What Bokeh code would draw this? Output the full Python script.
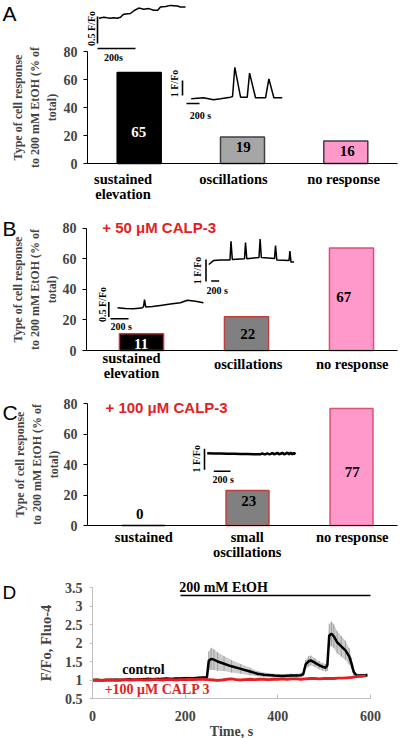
import math
from bokeh.plotting import figure
from bokeh.models import Range1d, LinearAxis, FixedTicker, NumeralTickFormatter
from bokeh.layouts import column
from bokeh.core.properties import value
from bokeh.embed import file_html
from bokeh.resources import INLINE

# ---------------- data ----------------
cat_A = ["sustained\nelevation", "oscillations", "no response"]
val_A = [65, 19, 16]
cat_B = ["sustained\nelevation", "oscillations", "no response"]
val_B = [11, 22, 67]
cat_C = ["sustained", "small\noscillations", "no response"]
val_C = [0, 23, 77]
pct_ticks = [0, 20, 40, 60, 80]

# inset traces: time (s), F/Fo
trA1_t = [2, 28, 45, 63, 80, 98, 116, 130, 142, 168, 186, 212, 238, 265, 291, 312, 326, 353, 379, 414, 432, 458]
trA1_f = [0.99, 1.01, 1.00, 0.99, 1.00, 0.99, 1.01, 1.06, 1.07, 1.08, 1.13, 1.18, 1.16, 1.17, 1.14, 1.14, 1.20, 1.21, 1.23, 1.22, 1.20, 1.20]
trA2_t = [0, 189, 343, 451, 605, 636, 671, 759, 862, 898, 990, 1144, 1195, 1272, 1401]
trA2_f = [1.00, 1.07, 0.93, 1.00, 1.11, 1.15, 3.10, 1.11, 1.11, 2.71, 1.07, 1.07, 2.33, 1.07, 1.07]
trB1_t = [0, 89, 178, 266, 289, 300, 314, 389, 477, 588, 699, 777, 866, 955]
trB1_f = [1.00, 0.98, 0.97, 0.99, 1.03, 1.27, 1.03, 1.04, 1.08, 1.13, 1.17, 1.25, 1.22, 1.17]
trB2_t = [0, 118, 293, 530, 555, 588, 893, 918, 950, 1255, 1283, 1313, 1643, 1668, 1700, 2005, 2028, 2055, 2130]
trB2_f = [0.94, 1.12, 1.15, 1.15, 2.00, 1.17, 1.20, 1.94, 1.20, 1.26, 2.10, 1.26, 1.21, 1.80, 1.15, 1.12, 1.55, 1.05, 1.05]
trC_t = [0, 80, 160, 240, 320, 400, 480, 560, 640, 660, 680, 700, 720, 740, 760, 780, 800, 820, 840, 860, 880, 900, 920, 940, 960, 980, 1000, 1020, 1040, 1057]
trC_f = [1.00, 0.99, 0.98, 0.97, 0.97, 0.96, 0.96, 0.95, 0.95, 0.99, 0.95, 0.95, 1.00, 0.95, 0.96, 1.01, 0.95, 0.97, 1.02, 0.95, 0.97, 1.02, 0.95, 0.97, 1.03, 0.95, 1.02, 0.95, 1.01, 0.95]

# panel D
time_ctrl = [0, 10, 20, 30, 40, 50, 60, 70, 80, 90, 100, 110, 120, 130, 140, 150, 160, 170, 180, 190, 200, 210, 220, 230, 240,
             247, 251, 256, 262, 270, 284, 300, 320, 340, 356, 370, 392, 410, 428, 440, 450, 455, 460, 466, 471, 480, 489, 496,
             503, 507, 511, 516, 521, 528, 537, 546, 554, 559, 564, 570, 580, 593]
mean_ctrl = [1.00, 1.00, 0.99, 1.00, 1.00, 1.01, 1.00, 1.01, 1.02, 1.01, 1.02, 1.02, 1.03, 1.02, 1.03, 1.03, 1.04, 1.03, 1.04, 1.04,
             1.05, 1.05, 1.05, 1.06, 1.07,
             1.07, 1.52, 1.57, 1.55, 1.50, 1.44, 1.37, 1.30, 1.23, 1.17, 1.14, 1.12, 1.11, 1.12, 1.12, 1.13, 1.16, 1.42, 1.50,
             1.53, 1.47, 1.40, 1.36, 1.33, 1.40, 2.20, 2.25, 2.18, 2.02, 1.91, 1.80, 1.64, 1.45, 1.21, 1.12, 1.12, 1.13]
sem_ctrl = [0.04, 0.04, 0.04, 0.04, 0.04, 0.04, 0.04, 0.04, 0.04, 0.04, 0.04, 0.04, 0.04, 0.04, 0.04, 0.04, 0.04, 0.04, 0.04, 0.04,
            0.04, 0.04, 0.04, 0.04, 0.04,
            0.05, 0.25, 0.30, 0.28, 0.25, 0.20, 0.17, 0.13, 0.10, 0.07, 0.06, 0.05, 0.05, 0.05, 0.05, 0.05, 0.06, 0.12, 0.14,
            0.13, 0.12, 0.11, 0.10, 0.10, 0.15, 0.32, 0.33, 0.32, 0.30, 0.28, 0.26, 0.22, 0.15, 0.08, 0.05, 0.05, 0.05]
time_calp = [0, 10, 20, 30, 40, 50, 60, 70, 80, 90, 100, 110, 120, 130, 140, 150, 160, 170, 180, 190, 200, 210, 220, 230, 240,
             250, 260, 270, 280, 290, 300, 310, 320, 330, 340, 350, 360, 370, 380, 390, 400, 410, 420, 430, 440, 450, 460, 470,
             480, 490, 500, 510, 520, 530, 540, 550, 560, 570, 580, 590]
mean_calp = [0.99, 1.00, 0.99, 1.00, 1.00, 0.99, 1.00, 1.01, 1.00, 1.00, 1.01, 1.00, 1.00, 1.01, 1.01, 1.00, 1.01, 1.01, 1.00, 1.01,
             1.01, 1.02, 1.01, 1.02, 1.02, 1.01, 1.00, 0.99, 1.00, 1.02, 1.03, 1.01, 1.00, 1.01, 1.02, 1.01, 1.02, 1.02, 1.01, 1.02,
             1.02, 1.03, 1.02, 1.03, 1.03, 1.02, 1.03, 1.04, 1.04, 1.03, 1.04, 1.04, 1.04, 1.05, 1.05, 1.06, 1.07, 1.09, 1.10, 1.11]
d_xticks = [0, 200, 400, 600]
d_yticks = [0.5, 1, 1.5, 2, 2.5, 3, 3.5]
etoh_period = [190, 600]

# ---------------- layout helpers ----------------
S = 1.0
W = 404
HEIGHTS = [201, 196, 180, 161]
X_LEFT_REF = 0.0
SERIF = "Liberation Serif"
SANS = "Liberation Sans"
RED = "#e31e24"
F_CAT = 14.5
F_TICK = 14
F_VAL = 15
F_INS = 10

ref_tops = [0.0]
for h in HEIGHTS[:-1]:
    ref_tops.append(ref_tops[-1] + h / S)


def make_panel(height, ref_top, cx0, dx, y0, dy):
    ref_bot = ref_top + height / S
    xs = (X_LEFT_REF - cx0) / dx
    xe = (X_LEFT_REF + W / S - cx0) / dx
    ys = (y0 - ref_bot) / dy
    ye = (y0 - ref_top) / dy
    p = figure(width=W, height=height, x_range=Range1d(xs, xe), y_range=Range1d(ys, ye),
               x_axis_type=None, y_axis_type=None, output_backend="svg", toolbar_location=None,
               min_border=0, outline_line_color=None)
    p.background_fill_color = "white"
    p.border_fill_color = "white"
    X = lambda xr: (xr - cx0) / dx
    Y = lambda yr: (y0 - yr) / dy
    return p, X, Y


def txt(p, X, Y, xs, ys, texts, size, color="black", font=SERIF, bold=True, align="center", angle=0.0):
    p.text(x=[X(v) for v in xs], y=[Y(v) for v in ys], text=texts,
           text_font=value(font), text_font_style="bold" if bold else "normal",
           text_font_size=f"{size}px", text_color=color, text_align=align,
           text_baseline="middle", angle=angle)


def inset(p, X, Y, t, f, cfg):
    ox, oy, kx, ky = cfg["origin"][0], cfg["origin"][1], cfg["kx"], cfg["ky"]
    xr = [ox + ti * kx for ti in t]
    yr = [oy - (fi - 1.0) * ky for fi in f]
    p.line([X(v) for v in xr], [Y(v) for v in yr], line_color="black", line_width=cfg["lw"])
    vx, vyb = cfg["vbar"]
    vlen = cfg["vF"] * ky
    p.segment(x0=[X(vx)], y0=[Y(vyb)], x1=[X(vx)], y1=[Y(vyb - vlen)], line_color="black", line_width=1.6)
    hx, hy = cfg["hbar"]
    hlen = 200 * kx
    p.segment(x0=[X(hx)], y0=[Y(hy)], x1=[X(hx + hlen)], y1=[Y(hy)], line_color="black", line_width=1.6)
    txt(p, X, Y, [cfg["vlab"][0]], [cfg["vlab"][1]], [cfg["vtext"]], F_INS, angle=math.pi / 2)
    txt(p, X, Y, [cfg["hlab"][0]], [cfg["hlab"][1]], [cfg["htext"]], F_INS)


def bar_panel(idx, cfg, cats, vals, insets):
    p, X, Y = make_panel(HEIGHTS[idx], ref_tops[idx], cfg["cx0"], cfg["dx"], cfg["y0"], cfg["dy"])
    xs = list(range(len(vals)))
    p.vbar(x=xs, top=vals, width=cfg["bw"], bottom=0, fill_color=cfg["fills"],
           line_color=cfg["edges"], line_width=1.5)
    yax = LinearAxis(fixed_location=X(cfg["axis_x"]), bounds=(0, 80), ticker=FixedTicker(ticks=pct_ticks),
                     axis_line_color="black", axis_line_width=1,
                     major_tick_out=4, major_tick_in=0, minor_tick_out=0, minor_tick_in=0,
                     major_tick_line_color="black",
                     major_label_text_font=SERIF, major_label_text_font_style="bold",
                     major_label_text_font_size=f"{F_TICK}px", major_label_standoff=6,
                     axis_label="Type of cell response\nto 200 mM EtOH (% of\ntotal)",
                     axis_label_text_font=SERIF, axis_label_text_font_style="bold",
                     axis_label_text_font_size="12px", axis_label_standoff=cfg["yl_standoff"],
                     axis_label_text_align="center")
    p.add_layout(yax, "left")
    xax = LinearAxis(fixed_location=0, bounds=(X(cfg["axis_x"]), X(cfg["axis_end"])),
                     ticker=FixedTicker(ticks=[]), axis_line_color="black", axis_line_width=1,
                     major_tick_out=0, major_tick_in=0, minor_tick_out=0, minor_tick_in=0,
                     major_label_text_font_size="0px")
    p.add_layout(xax, "below")
    # panel letter
    txt(p, X, Y, [X_LEFT_REF + 2], [cfg["letter_y"]], [cfg["letter"]], 21, font=SANS, bold=False, align="left")
    if cfg.get("heading"):
        txt(p, X, Y, [cfg["heading_pos"][0]], [cfg["heading_pos"][1]], [cfg["heading"]], 15,
            color=RED, font=SANS, align="left")
    # value labels
    for i, v in enumerate(vals):
        txt(p, X, Y, [cfg["vl_x"][i]], [cfg["vl_y"][i]], [str(v)], F_VAL, color=cfg["vl_color"][i])
    # category labels
    for i, c in enumerate(cats):
        for j, line in enumerate(c.split("\n")):
            txt(p, X, Y, [cfg["cl_x"][i]], [cfg["cl_y"][i] + 15 * j], [line], F_CAT)
    for (t, f, icfg) in insets:
        inset(p, X, Y, t, f, icfg)
    return p


cfgA = dict(cx0=138.7, dx=103.3, y0=163, dy=1.4, axis_x=87, axis_end=397, bw=0.426, yl_standoff=2,
            fills=["#000000", "#a6a6a6", "#ff99cc"], edges=["#000000", "#404040", "#404040"],
            letter="A", letter_y=12.5,
            vl_x=[138.3, 242.7, 346.7], vl_y=[131.7, 146.7, 150], vl_color=["white", "black", "black"],
            cl_x=[122.5, 233, 343], cl_y=[178.3, 178.3, 178.3])
cfgB = dict(cx0=141, dx=105, y0=350, dy=1.529, axis_x=86, axis_end=397, bw=0.42, yl_standoff=1,
            fills=["#000000", "#808080", "#ff99cc"], edges=["#d03030", "#c04040", "#e05070"],
            letter="B", letter_y=228.3, heading="+ 50 \u03bcM CALP-3", heading_pos=(101.7, 226.7),
            vl_x=[140.7, 247.3, 343.3], vl_y=[343.3, 333.3, 296], vl_color=["white", "black", "black"],
            cl_x=[131, 247.7, 351.7], cl_y=[357.7, 363.3, 363.3])
cfgC = dict(cx0=143, dx=104, y0=525, dy=1.521, axis_x=87, axis_end=397, bw=0.413, yl_standoff=0,
            fills=["#000000", "#808080", "#ff99cc"], edges=["#000000", "#c04040", "#e05070"],
            letter="C", letter_y=411.7, heading="+ 100 \u03bcM CALP-3", heading_pos=(105, 407.3),
            vl_x=[139.3, 248.3, 351.7], vl_y=[513.3, 500, 471.7], vl_color=["black", "black", "black"],
            cl_x=[143.3, 246.7, 351.7], cl_y=[536.7, 536.7, 536.7])

insA1 = dict(origin=(98, 17.3), kx=0.19, ky=54, lw=1.5, vbar=(97, 43), vF=0.5, hbar=(97, 48),
             vlab=(90.5, 28), vtext="0.5 F/Fo", hlab=(113, 57), htext="200s")
insA2 = dict(origin=(190.7, 98.3), kx=0.065, ky=15, lw=1.5, vbar=(182, 95), vF=1.0, hbar=(186, 103),
             vlab=(174, 83), vtext="1 F/Fo", hlab=(200, 115), htext="200 s")
insB1 = dict(origin=(117, 307.3), kx=0.09, ky=30, lw=1.5, vbar=(108.3, 316.5), vF=0.5, hbar=(110, 318.3),
             vlab=(102, 304), vtext="0.5 F/Fo", hlab=(120.8, 325.5), htext="200 s")
insB2 = dict(origin=(208.3, 262.7), kx=0.04, ky=22, lw=1.5, vbar=(205.5, 281), vF=1.0, hbar=(210.7, 280.5),
             vlab=(197.3, 270), vtext="1 F/Fo", hlab=(216.7, 290), htext="200 s")
insC = dict(origin=(206.7, 452.7), kx=0.0835, ky=21, lw=2.5, vbar=(204, 469.3), vF=1.0, hbar=(213.3, 470.7),
            vlab=(196, 458.3), vtext="1 F/Fo", hlab=(222.7, 479.3), htext="200 s")

pA = bar_panel(0, cfgA, cat_A, val_A, [(trA1_t, trA1_f, insA1), (trA2_t, trA2_f, insA2)])
pB = bar_panel(1, cfgB, cat_B, val_B, [(trB1_t, trB1_f, insB1), (trB2_t, trB2_f, insB2)])
pC = bar_panel(2, cfgC, cat_C, val_C, [(trC_t, trC_f, insC)])

# ---------------- panel D ----------------
pD, XD, YD = make_panel(HEIGHTS[3], ref_tops[3], 92, 0.4633, 698 + 0.5 * 37, 37)
AX_GRAY = "#bfbfbf"
lo = [m - s for m, s in zip(mean_ctrl, sem_ctrl)]
hi = [m + s for m, s in zip(mean_ctrl, sem_ctrl)]
pD.varea(x=time_ctrl, y1=lo, y2=hi, fill_color="#cccccc", fill_alpha=1.0)
pD.segment(x0=time_ctrl, y0=lo, x1=time_ctrl, y1=hi, line_color="#a0a0a0", line_width=1)
pD.line(time_ctrl, mean_ctrl, line_color="black", line_width=2.5)
pD.varea(x=time_calp, y1=[m - 0.025 for m in mean_calp], y2=[m + 0.025 for m in mean_calp],
         fill_color=RED, fill_alpha=0.5)
pD.line(time_calp, mean_calp, line_color=RED, line_width=2.8)

ydax = LinearAxis(fixed_location=0, bounds=(0.5, 3.5), ticker=FixedTicker(ticks=d_yticks),
                  formatter=NumeralTickFormatter(format="0.[0]"),
                  axis_line_color=AX_GRAY, major_tick_line_color=AX_GRAY,
                  major_tick_out=3, major_tick_in=0, minor_tick_out=0, minor_tick_in=0,
                  major_label_text_font=SERIF, major_label_text_font_style="bold",
                  major_label_text_font_size=f"{F_TICK}px", major_label_standoff=7,
                  axis_label="F/Fo, Fluo-4", axis_label_text_font=SERIF, axis_label_text_font_style="bold",
                  axis_label_text_font_size="14.5px", axis_label_standoff=8)
pD.add_layout(ydax, "left")
xdax = LinearAxis(fixed_location=0.5, bounds=(0, 600), ticker=FixedTicker(ticks=d_xticks),
                  axis_line_color=AX_GRAY, major_tick_line_color=AX_GRAY,
                  major_tick_out=0, major_tick_in=4, minor_tick_out=0, minor_tick_in=0,
                  major_label_text_font=SERIF, major_label_text_font_style="bold",
                  major_label_text_font_size=f"{F_TICK}px", major_label_standoff=12,
                  axis_label="Time, s", axis_label_text_font=SERIF, axis_label_text_font_style="bold",
                  axis_label_text_font_size="14px", axis_label_standoff=0)
pD.add_layout(xdax, "below")

ident = lambda v: v
pD.segment(x0=[etoh_period[0]], y0=[YD(595)], x1=[etoh_period[1]], y1=[YD(595)], line_color="black", line_width=1.5)
txt(pD, ident, ident, [XD(223)], [YD(587)], ["200 mM EtOH"], 14)
txt(pD, ident, ident, [XD(X_LEFT_REF + 2)], [YD(592)], ["D"], 19, font=SANS, bold=False, align="left")
txt(pD, ident, ident, [XD(143)], [YD(669)], ["control"], 14)
txt(pD, ident, ident, [XD(157)], [YD(689)], ["+100 \u03bcM CALP 3"], 14, color=RED)

layout = column(pA, pB, pC, pD, spacing=0)
open("out.html", "w").write(file_html(layout, INLINE))
